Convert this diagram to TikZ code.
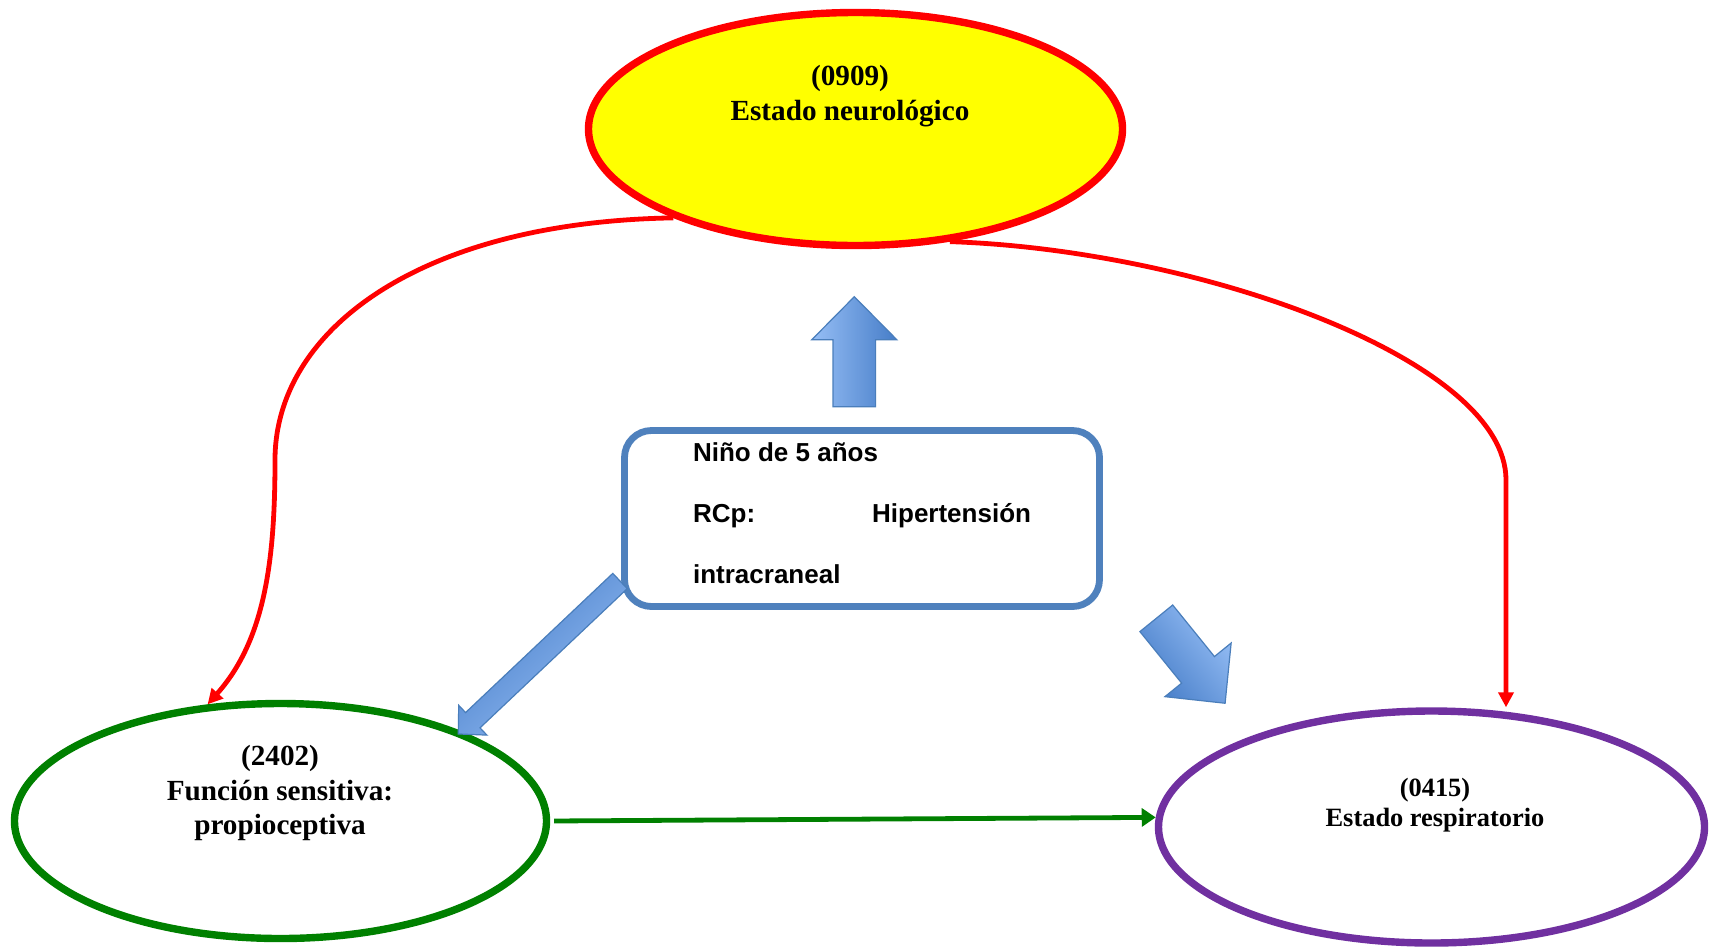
\documentclass[tikz,border=0pt]{standalone}
\usepackage{fontspec}
\setmainfont{Liberation Serif}
\newfontfamily\arialfont{Liberation Sans}
\usetikzlibrary{shapes.geometric,arrows.meta,calc}
\definecolor{myred}{RGB}{255,0,0}
\definecolor{myyellow}{RGB}{255,255,0}
\definecolor{mygreen}{RGB}{0,128,0}
\definecolor{mypurple}{RGB}{112,48,160}
\definecolor{boxblue}{RGB}{79,129,189}
\definecolor{arrowlight}{RGB}{150,190,245}
\definecolor{arrowdark}{RGB}{70,125,200}
\definecolor{arrowedge}{RGB}{74,126,187}
\newcommand\blockarrow[6]{% #1 tail coordinate, #2 angle, #3 length, #4 half shaft, #5 half head, #6 head length
  \shadedraw[barrow, shading angle=#2]
    ($(#1)+({#2+90}:#4)$) --
    ($(#1)+({#2}:{#3-#6})+({#2+90}:#4)$) --
    ($(#1)+({#2}:{#3-#6})+({#2+90}:#5)$) --
    ($(#1)+({#2}:#3)$) --
    ($(#1)+({#2}:{#3-#6})+({#2-90}:#5)$) --
    ($(#1)+({#2}:{#3-#6})+({#2-90}:#4)$) --
    ($(#1)+({#2-90}:#4)$) -- cycle;
}
\begin{document}
\begin{tikzpicture}[x=0.5pt,y=0.5pt,
  oval/.style={ellipse, line width=3.7pt, inner sep=0pt},
  ovaltext/.style={inner sep=0pt, anchor=base, font=\bfseries\fontsize{14.6}{17}\selectfont},
  ovaltextsmall/.style={inner sep=0pt, anchor=base, font=\bfseries\fontsize{13.2}{15.5}\selectfont},
  boxtext/.style={inner sep=0pt, anchor=base west, font=\arialfont\bfseries\fontsize{13}{15}\selectfont},
  redconn/.style={draw=myred, line width=2.4pt, -{Triangle[length=7.5pt,width=7.5pt]}},
  greenconn/.style={draw=mygreen, line width=2.4pt, -{Triangle[length=7pt,width=9pt]}},
  barrow/.style={top color=arrowlight, bottom color=arrowdark, draw=arrowedge, line width=0.6pt, line join=miter}
]
\useasboundingbox (0,0) rectangle (1711,-948);
\fill[white] (0,0) rectangle (1711,-948);

% ovals
\node[oval, draw=myred, fill=myyellow, minimum width=267pt, minimum height=116.5pt] (neuro) at (855.5,-129) {};
\node[oval, draw=mygreen, fill=white, minimum width=266pt, minimum height=117.5pt] (sens) at (280.5,-821) {};
\node[oval, draw=mypurple, fill=white, minimum width=273pt, minimum height=116pt] (resp) at (1431.5,-827) {};

% oval texts
\node[ovaltext] (neuroA) at (850,-85) {(0909)};
\node[ovaltext] (neuroB) at (850,-120) {Estado neurológico};
\node[ovaltext] (sensA) at (280,-765) {(2402)};
\node[ovaltext] (sensB) at (280,-800) {Función sensitiva:};
\node[ovaltext] (sensC) at (280,-834.5) {propioceptiva};
\node[ovaltextsmall] (respA) at (1435,-796) {(0415)};
\node[ovaltextsmall] (respB) at (1435,-826.5) {Estado respiratorio};

% central box
\node[draw=boxblue, line width=3.4pt, rounded corners=13.5pt, fill=white,
      minimum width=237.5pt, minimum height=88pt, inner sep=0pt] (box) at (862,-518.5) {};
\node[boxtext] (t1) at (692.7,-461.7) {Niño de 5 años};
\node[boxtext] (t2) at (692.7,-522.7) {RCp:};
\node[boxtext] (t3) at (871.7,-522.7) {Hipertensión};
\node[boxtext] (t4) at (692.7,-583) {intracraneal};

% red connectors
\draw[redconn] (neuro.206) .. controls (420,-222) and (275,-330) .. (275,-460)
   .. controls (275,-560) and (265,-640) .. (sens.122);
\coordinate (rbend) at (1506,-480);
\draw[redconn] (neuro.-50) .. controls (1200,-250) and (1506,-360) .. (rbend)
   -- (resp.north -| rbend);

% green connector
\draw[greenconn, shorten <=2pt] (sens.-0.7) -- (resp.178.6);

% block arrows
\coordinate (upT) at (854.3,-406.7);
\blockarrow{upT}{90}{110}{21.3}{42.5}{43}
\coordinate (drT) at (1156.3,-618.3);
\blockarrow{drT}{-51}{109.3}{21.1}{42.6}{43}
\coordinate (dlT) at (620,-581);
\blockarrow{dlT}{223.4}{222.6}{10.5}{20.5}{20}
\end{tikzpicture}
\end{document}
